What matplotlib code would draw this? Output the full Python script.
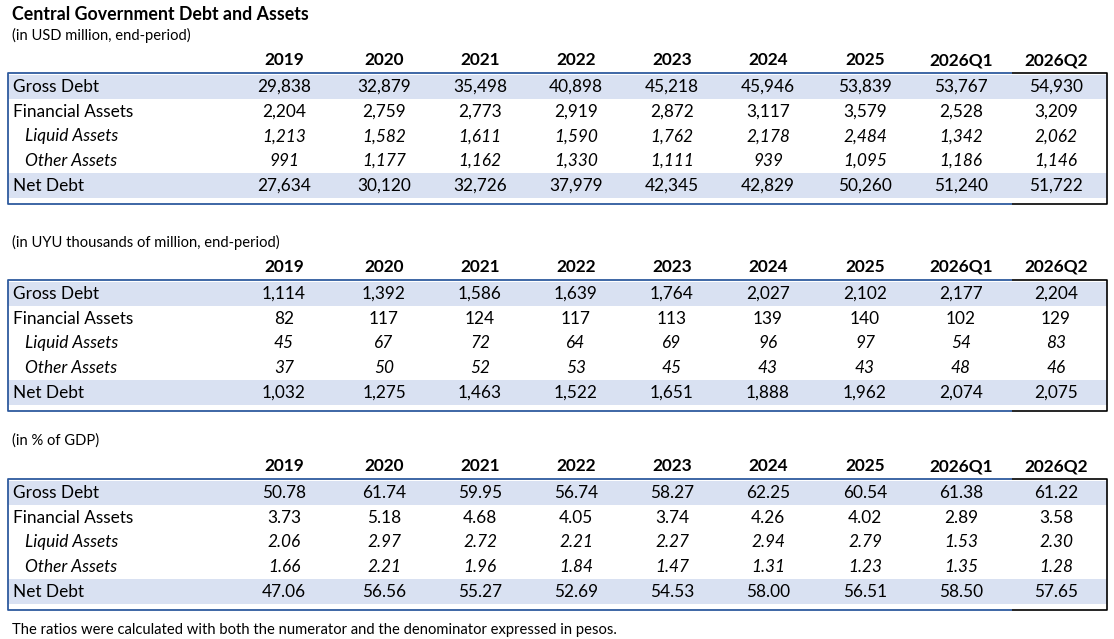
import matplotlib
matplotlib.use("Agg")
import matplotlib.pyplot as plt
from matplotlib.patches import Rectangle

plt.rcParams["font.family"] = ["Lato", "DejaVu Sans"]

periods = ["2019", "2020", "2021", "2022", "2023", "2024", "2025", "2026Q1", "2026Q2"]
row_labels = ["Gross Debt", "Financial Assets", "Liquid Assets", "Other Assets", "Net Debt"]

usd_gross = [29838, 32879, 35498, 40898, 45218, 45946, 53839, 53767, 54930]
usd_fin = [2204, 2759, 2773, 2919, 2872, 3117, 3579, 2528, 3209]
usd_liquid = [1213, 1582, 1611, 1590, 1762, 2178, 2484, 1342, 2062]
usd_other = [991, 1177, 1162, 1330, 1111, 939, 1095, 1186, 1146]
usd_net = [27634, 30120, 32726, 37979, 42345, 42829, 50260, 51240, 51722]

uyu_gross = [1114, 1392, 1586, 1639, 1764, 2027, 2102, 2177, 2204]
uyu_fin = [82, 117, 124, 117, 113, 139, 140, 102, 129]
uyu_liquid = [45, 67, 72, 64, 69, 96, 97, 54, 83]
uyu_other = [37, 50, 52, 53, 45, 43, 43, 48, 46]
uyu_net = [1032, 1275, 1463, 1522, 1651, 1888, 1962, 2074, 2075]

gdp_gross = [50.78, 61.74, 59.95, 56.74, 58.27, 62.25, 60.54, 61.38, 61.22]
gdp_fin = [3.73, 5.18, 4.68, 4.05, 3.74, 4.26, 4.02, 2.89, 3.58]
gdp_liquid = [2.06, 2.97, 2.72, 2.21, 2.27, 2.94, 2.79, 1.53, 2.30]
gdp_other = [1.66, 2.21, 1.96, 1.84, 1.47, 1.31, 1.23, 1.35, 1.28]
gdp_net = [47.06, 56.56, 55.27, 52.69, 54.53, 58.00, 56.51, 58.50, 57.65]

SHADE = "#D9E1F2"
BLUE = "#2E5A9E"
FS = 12.4       # body text
FS_SMALL = 10.6 # subtitles / footnote

fig = plt.figure(figsize=(11.14, 6.39), dpi=100)
ax = fig.add_axes([0, 0, 1, 1])
ax.set_xlim(0, 1114)
ax.set_ylim(639, 0)
ax.axis("off")

col_x = [284, 384, 480, 576, 672, 768, 865, 961, 1056]
LEFT, RIGHT, SPLIT = 8, 1107, 1012


def draw_table(top, subtitle, rows, fmt):
    # subtitle, header row, then the boxed body
    ax.text(12, top - 38, subtitle, fontsize=FS_SMALL, va="center")
    for x, p in zip(col_x, periods):
        ax.text(x, top - 13, p, fontsize=FS, weight="bold", ha="center", va="center")
    rh = 24.7
    centers = [top + 14 + i * rh for i in range(5)]
    bottom = centers[-1] + 18
    for i in (0, 4):
        ax.add_patch(Rectangle((LEFT, centers[i] - 12.4), RIGHT - LEFT, 24.8,
                               facecolor=SHADE, edgecolor="none", zorder=1))
    for i, (lab, vals) in enumerate(zip(row_labels, rows)):
        italic = i in (2, 3)
        ax.text(25 if italic else 13, centers[i], lab, fontsize=FS, va="center",
                style="italic" if italic else "normal", zorder=3)
        for x, v in zip(col_x, vals):
            ax.text(x, centers[i], fmt(v), fontsize=FS, ha="center", va="center",
                    style="italic" if italic else "normal", zorder=3)
    # borders: blue on left/top/bottom, black around the last column
    ax.plot([SPLIT, LEFT, LEFT, SPLIT], [top, top, bottom, bottom], color=BLUE, lw=1.3, zorder=4,
            solid_capstyle="butt")
    ax.plot([SPLIT, RIGHT, RIGHT, SPLIT], [top, top, bottom, bottom], color="black", lw=1.2, zorder=4,
            solid_capstyle="butt")


ax.text(12, 14, "Central Government Debt and Assets", fontsize=12.8, weight="bold", va="center")

draw_table(73, "(in USD million, end-period)",
           [usd_gross, usd_fin, usd_liquid, usd_other, usd_net], lambda v: f"{v:,}")
draw_table(280, "(in UYU thousands of million, end-period)",
           [uyu_gross, uyu_fin, uyu_liquid, uyu_other, uyu_net], lambda v: f"{v:,}")
draw_table(479, "(in % of GDP)",
           [gdp_gross, gdp_fin, gdp_liquid, gdp_other, gdp_net], lambda v: f"{v:.2f}")

ax.text(12, 630, "The ratios were calculated with both the numerator and the denominator expressed in pesos.",
        fontsize=FS_SMALL, va="center")

fig.savefig("out.png", dpi=100, facecolor="white")
